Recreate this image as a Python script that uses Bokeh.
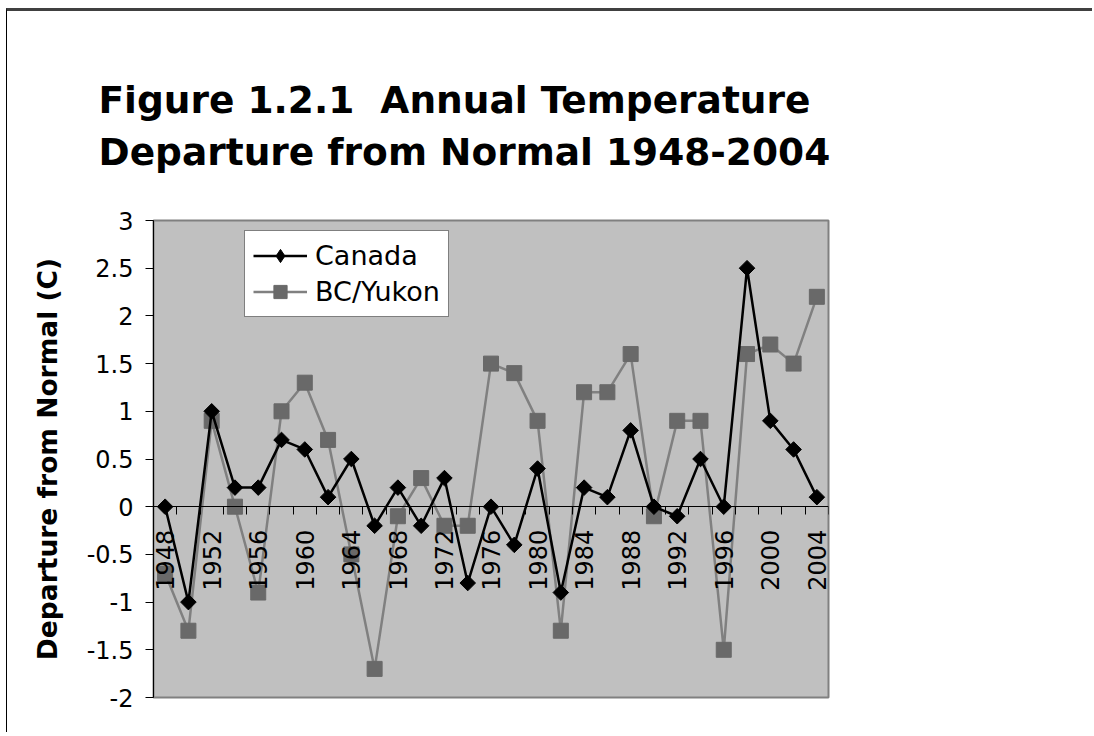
import math
from bokeh.plotting import figure
from bokeh.models import (FixedTicker, CustomJSTickFormatter, Legend, LegendItem, Range1d)
from bokeh.embed import file_html
from bokeh.resources import INLINE

years = [1948, 1950, 1952, 1954, 1956, 1958, 1960, 1962, 1964, 1966, 1968, 1970, 1972, 1974,
         1976, 1978, 1980, 1982, 1984, 1986, 1988, 1990, 1992, 1994, 1996, 1998, 2000, 2002, 2004]
canada = [0.0, -1.0, 1.0, 0.2, 0.2, 0.7, 0.6, 0.1, 0.5, -0.2, 0.2, -0.2, 0.3, -0.8,
          0.0, -0.4, 0.4, -0.9, 0.2, 0.1, 0.8, 0.0, -0.1, 0.5, 0.0, 2.5, 0.9, 0.6, 0.1]
bc_yukon = [-0.7, -1.3, 0.9, 0.0, -0.9, 1.0, 1.3, 0.7, -0.5, -1.7, -0.1, 0.3, -0.2, -0.2,
            1.5, 1.4, 0.9, -1.3, 1.2, 1.2, 1.6, -0.1, 0.9, 0.9, -1.5, 1.6, 1.7, 1.5, 2.2]
year_labels = [1948, 1952, 1956, 1960, 1964, 1968, 1972, 1976, 1980, 1984, 1988, 1992, 1996, 2000, 2004]
y_ticks = [-2, -1.5, -1, -0.5, 0, 0.5, 1, 1.5, 2, 2.5, 3]

title_text = "Figure 1.2.1\u00a0 Annual Temperature\nDeparture from Normal 1948-2004"
y_label = "Departure from Normal (C)"

W, H = 1086, 724
p = figure(width=W, height=H, output_backend="svg", toolbar_location=None,
           x_range=Range1d(years[0] - 1, years[-1] + 1), y_range=Range1d(-2, 3),
           min_border_left=146, min_border_right=265, min_border_top=209, min_border_bottom=38)
p.styles = {"margin-top": "8px", "margin-left": "6px",
            "border-top": "3px solid #404040", "border-left": "1px solid #000000"}

p.background_fill_color = "#C0C0C0"
p.border_fill_color = "white"
p.outline_line_color = "#808080"
p.outline_line_width = 2
p.grid.visible = False

# title
p.title.text = title_text
p.title.text_font = "DejaVu Sans"
p.title.text_font_style = "bold"
p.title.text_font_size = "37.5px"
p.title.text_color = "black"
p.title.align = "left"
p.title.offset = -55
p.title.standoff = 92
p.title.text_line_height = 1.2

# x axis at zero
xa = p.xaxis[0]
xa.fixed_location = 0
half = [y + 1 for y in years]
xa.ticker = FixedTicker(ticks=year_labels, minor_ticks=[years[0] - 1] + half)
xa.major_tick_out = 0
xa.major_tick_in = 0
xa.minor_tick_out = 8
xa.minor_tick_in = 0
xa.minor_tick_line_color = "black"
xa.axis_line_color = "black"
xa.major_label_orientation = math.pi / 2
xa.major_label_text_font = "DejaVu Sans"
xa.major_label_text_font_size = "24px"
xa.major_label_text_color = "black"
xa.major_label_standoff = 15
xa.formatter = CustomJSTickFormatter(code="return String(tick);")

ya = p.yaxis[0]
ya.ticker = FixedTicker(ticks=y_ticks)
ya.minor_tick_out = 0
ya.minor_tick_in = 0
ya.major_tick_out = 8
ya.major_tick_in = 0
ya.axis_line_color = "black"
ya.major_tick_line_color = "black"
ya.major_label_text_font = "DejaVu Sans"
ya.major_label_text_font_size = "24px"
ya.major_label_text_color = "black"
ya.major_label_standoff = 12
ya.formatter = CustomJSTickFormatter(code="return String(tick);")
ya.axis_label = y_label
ya.axis_label_text_font = "DejaVu Sans"
ya.axis_label_text_font_style = "bold"
ya.axis_label_text_font_size = "26.5px"
ya.axis_label_text_color = "black"
ya.axis_label_standoff = 21

bl = p.line(years, bc_yukon, line_color="#808080", line_width=2.5)
bm = p.scatter(years, bc_yukon, marker="square", size=15, fill_color="#696969", line_color="#696969")
cl = p.line(years, canada, line_color="black", line_width=2.5)
cm = p.scatter(years, canada, marker="square", angle=math.pi / 4, size=11, fill_color="black", line_color="black")

# legend-only diamond glyph (no data points inside the range)
nan = float("nan")
leg_diamond = p.scatter([nan], [nan], marker="diamond", size=18, fill_color="black", line_color="black")

legend = Legend(items=[LegendItem(label="Canada", renderers=[cl, leg_diamond]),
                       LegendItem(label="BC/Yukon", renderers=[bl, bm])],
                location=(91, 380), orientation="vertical")
legend.background_fill_color = "white"
legend.background_fill_alpha = 1
legend.border_line_color = "black"
legend.border_line_width = 1
legend.label_text_font = "DejaVu Sans"
legend.label_text_font_size = "27px"
legend.label_text_color = "black"
legend.glyph_width = 54
legend.glyph_height = 33
legend.label_height = 33
legend.spacing = 3
legend.padding = 8
legend.margin = 0
legend.label_standoff = 8
p.add_layout(legend, "center")

open("out.html", "w").write(file_html(p, INLINE))
